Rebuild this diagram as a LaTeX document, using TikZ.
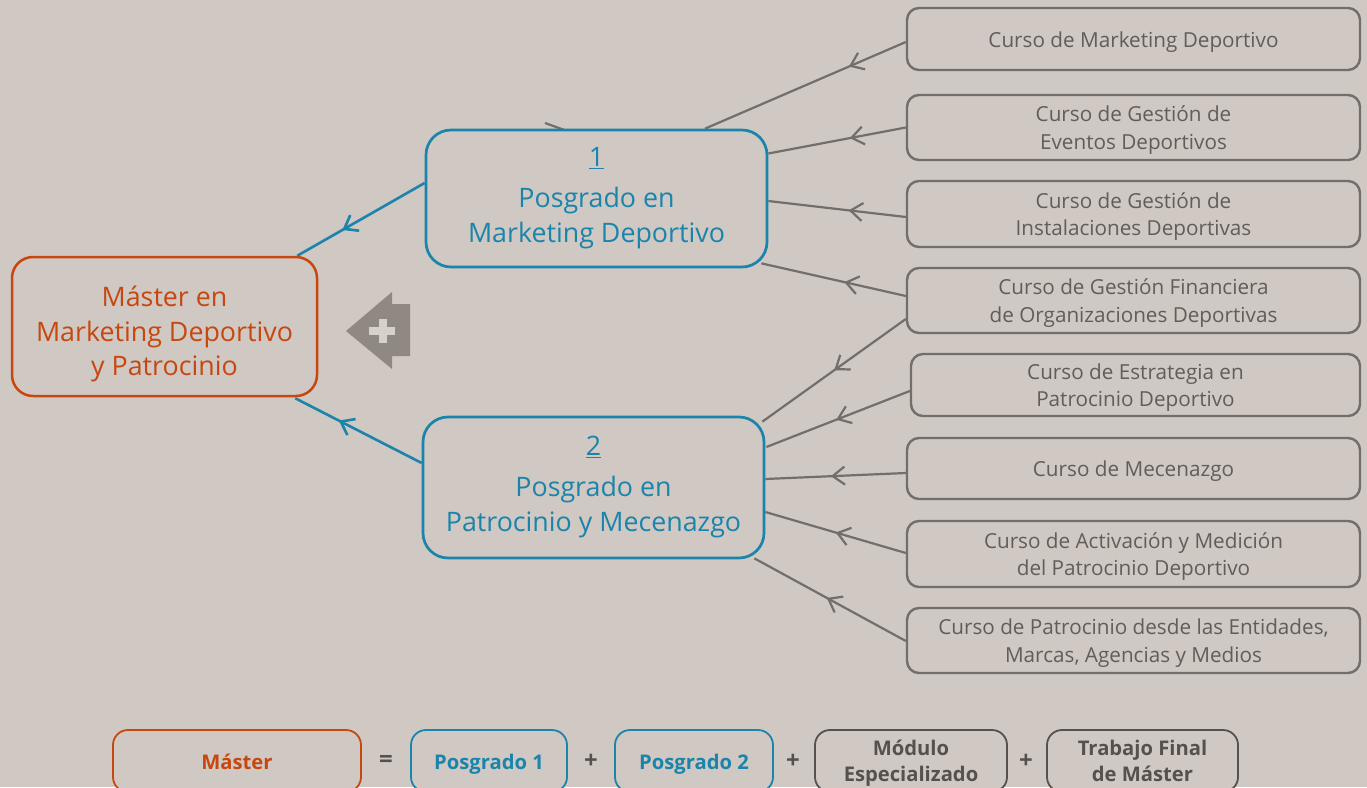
\documentclass[tikz,border=0pt]{standalone}
\usepackage{fontspec}
\setmainfont{Open Sans}
\usetikzlibrary{arrows.meta,decorations.markings,calc,backgrounds}
\definecolor{bg}{HTML}{CFC8C3}
\definecolor{mblue}{HTML}{1A84AB}
\definecolor{morange}{HTML}{C8470F}
\definecolor{mgray}{HTML}{736E6A}
\definecolor{mgraytext}{HTML}{625D59}
\definecolor{mdark}{HTML}{57514D}
\definecolor{plusbox}{HTML}{8F8883}
\definecolor{pluscol}{HTML}{D7D1CC}
\newcommand{\topS}[1]{\rule{0pt}{#1}}
\newcommand{\botS}[1]{\rule[-#1]{0pt}{#1}}
\begin{document}
\begin{tikzpicture}[x=1pt,y=-1pt,
  box/.style={rectangle, draw, fill=bg, inner sep=0pt, align=center},
  master/.style={box, draw=morange, text=morange, line width=2.5pt, rounded corners=21pt,
    font=\fontsize{26.8}{34.5}\selectfont},
  posg/.style={box, draw=mblue, text=mblue, line width=2.7pt, rounded corners=25pt,
    minimum width=341pt, font=\fontsize{26.8}{35}\selectfont},
  curso/.style={box, draw=mgray, text=mgraytext, line width=2.4pt, rounded corners=12pt,
    minimum width=453pt, font=\fontsize{20.7}{27.5}\selectfont},
  bot/.style={box, line width=1.8pt, rounded corners=15pt, minimum height=62pt,
    font=\bfseries\fontsize{20.2}{26}\selectfont},
  op/.style={inner sep=0pt, text=mdark, font=\bfseries\fontsize{24}{26}\selectfont},
  glink/.style={color=mgray, line width=2.2pt, postaction={decorate},
    decoration={markings, mark=at position #1 with {\arrow{Straight Barb[length=12pt,width=18pt]}}}},
  blink/.style={color=mblue, line width=2.6pt, postaction={decorate},
    decoration={markings, mark=at position #1 with {\arrow{Straight Barb[length=12pt,width=18pt]}}}}
]
\useasboundingbox (0,0) rectangle (1367,787);
\clip (0,0) rectangle (1367,787);

% main nodes
\node[master, minimum width=305pt, minimum height=139pt] (m) at (164.5,326.5)
  {\topS{37pt}Máster en\\Marketing Deportivo\\y Patrocinio\botS{8pt}};
\node[posg, minimum height=137pt] (p1) at (596.5,198.5)
  {\underline{1}\\[6pt]Posgrado en\\Marketing Deportivo};
\node[posg, minimum height=141pt] (p2) at (593.5,487.5)
  {\underline{2}\\[6pt]Posgrado en\\Patrocinio y Mecenazgo};

% course nodes
\node[curso, minimum height=62pt] (c1) at (1133.5,39) {\topS{22pt}Curso de Marketing Deportivo\botS{6pt}};
\node[curso, minimum height=65pt] (c2) at (1133.5,127.5) {\topS{22pt}Curso de Gestión de\\Eventos Deportivos\botS{6pt}};
\node[curso, minimum height=66pt] (c3) at (1133.5,214) {\topS{22pt}Curso de Gestión de\\Instalaciones Deportivas\botS{6pt}};
\node[curso, minimum height=65pt] (c4) at (1133.5,300.5) {\topS{22pt}Curso de Gestión Financiera\\de Organizaciones Deportivas\botS{6pt}};
\node[curso, minimum height=62pt, minimum width=449pt] (c5) at (1135.5,385) {\topS{22pt}Curso de Estrategia en\\Patrocinio Deportivo\botS{6pt}};
\node[curso, minimum height=61pt] (c6) at (1133.5,468.5) {\topS{22pt}Curso de Mecenazgo\botS{6pt}};
\node[curso, minimum height=66pt] (c7) at (1133.5,554) {\topS{22pt}Curso de Activación y Medición\\del Patrocinio Deportivo\botS{6pt}};
\node[curso, minimum height=65pt] (c8) at (1133.5,640.5) {\topS{22pt}Curso de Patrocinio desde las Entidades,\\Marcas, Agencias y Medios\botS{6pt}};

% plus arrow icon
\fill[plusbox] (346,331) -- (392,292) -- (392,304) -- (410,304) -- (410,356) -- (392,356) -- (392,369) -- cycle;
\fill[pluscol] (369.3,327) rectangle (395.3,334.7);
\fill[pluscol] (378.7,318.7) rectangle (386.5,342.7);

% bottom formula
\node[bot, draw=morange, text=morange, minimum width=248pt] (bm) at (237,761) {\topS{22pt}Máster\botS{6pt}};
\node[op] (eq) at (386,761) {=};
\node[bot, draw=mblue, text=mblue, minimum width=156pt] (bp1) at (489,761) {\topS{22pt}Posgrado 1\botS{6pt}};
\node[op] (pl1) at (591,761) {+};
\node[bot, draw=mblue, text=mblue, minimum width=158pt] (bp2) at (694,761) {\topS{22pt}Posgrado 2\botS{6pt}};
\node[op] (pl2) at (793,761) {+};
\node[bot, draw=mdark, text=mdark, minimum width=192pt] (bmod) at (911,761) {\topS{21.6pt}Módulo\\Especializado\botS{6pt}};
\node[op] (pl3) at (1026,761) {+};
\node[bot, draw=mdark, text=mdark, minimum width=191pt] (btfm) at (1142.5,761) {\topS{21.6pt}Trabajo Final\\de Máster\botS{6pt}};

\coordinate (s0) at (545,123);

\begin{pgfonlayer}{background}
\fill[bg] (0,0) rectangle (1367,787);
% blue connectors
\draw[blink=-52pt] ($(p1.west)+(0,-15.5)$) -- ($(m.north east)+(-21,0)$);
\draw[blink=-49pt] ($(p2.west)+(0,-24.5)$) -- ($(m.south east)+(-23,1)$);
% gray connectors
\draw[glink=62pt] ($(c1.west)+(0,3)$) -- ($(p1.north)+(108.5,0)$);
\draw[glink=57pt] (c2.west) -- ($(p1.east)+(0,-45)$);
\draw[glink=57.5pt] ($(c3.west)+(0,3)$) -- ($(p1.east)+(0,2.5)$);
\draw[glink=63pt] ($(c4.west)+(0,-4.5)$) -- ($(p1.south east)+(-7,-5)$);
\draw[glink=88pt] ($(c4.west)+(0,18.5)$) -- ($(p2.north east)+(-3,6)$);
\draw[glink=79pt] ($(c5.west)+(0,6)$) -- ($(p2.east)+(1,-40.5)$);
\draw[glink=75pt] ($(c6.west)+(0,4.5)$) -- ($(p2.east)+(0,-8.5)$);
\draw[glink=73pt] ($(c7.west)+(0,-1)$) -- ($(p2.east)+(0,24.5)$);
\draw[glink=90pt] ($(c8.west)+(0,0.5)$) -- ($(p2.south east)+(-11,-1)$);
% short stub above first postgraduate box
\draw[color=mgray, line width=2.2pt] (s0) -- ($(p1.north)+(-33,1)$);
\end{pgfonlayer}
\end{tikzpicture}
\end{document}
